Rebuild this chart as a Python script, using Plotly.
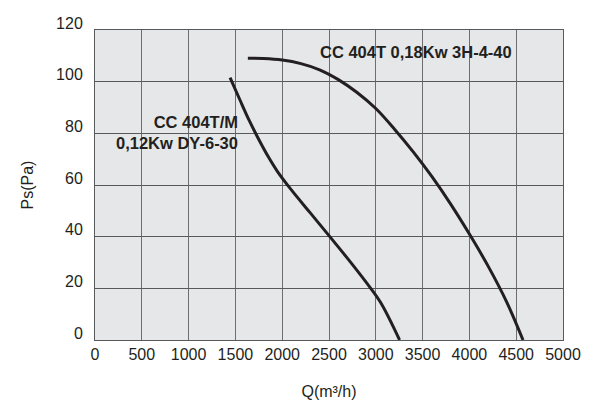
import plotly.graph_objects as go

# Fan curves
q_404tm = [1443, 1550, 1650, 1750, 1850, 1950, 2100, 2300, 2500, 2700, 2900, 3050, 3254]
ps_404tm = [101.6, 92.8, 84.8, 77.6, 71.0, 65.2, 58.0, 49.2, 40.4, 31.5, 22.2, 14.6, 0]

q_404t = [1633, 1800, 2000, 2200, 2400, 2600, 2800, 3000, 3200, 3400, 3600, 3800, 4000, 4200, 4400, 4573]
ps_404t = [109.1, 109.0, 108.4, 107.0, 104.6, 100.8, 95.8, 89.6, 81.6, 72.8, 63.2, 52.6, 41.0, 28.6, 14.6, 0]

x_ticks = [0, 500, 1000, 1500, 2000, 2500, 3000, 3500, 4000, 4500, 5000]
y_ticks = [0, 20, 40, 60, 80, 100, 120]

label_404t = "CC 404T 0,18Kw 3H-4-40"
label_404tm = "CC 404T/M<br>0,12Kw DY-6-30"

INK = "#231f20"
FONT = "Liberation Sans, Arial, sans-serif"

fig = go.Figure()
for q, ps in [(q_404tm, ps_404tm), (q_404t, ps_404t)]:
    fig.add_trace(go.Scatter(
        x=q, y=ps, mode="lines",
        line=dict(color=INK, width=3, shape="spline", smoothing=1.0),
        showlegend=False, hoverinfo="skip",
    ))

fig.add_annotation(x=2380, y=111.4, xref="x", yref="y", text=f"<b>{label_404t}</b>",
                   showarrow=False, xanchor="left", yanchor="middle",
                   font=dict(family=FONT, size=16.5, color=INK))
fig.add_annotation(x=1551, y=80.3, xref="x", yref="y", text=f"<b>{label_404tm}</b>",
                   showarrow=False, xanchor="right", yanchor="middle", align="right",
                   font=dict(family=FONT, size=16.5, color=INK))

fig.update_layout(
    width=608, height=400,
    margin=dict(l=95, r=45, t=30, b=60),
    paper_bgcolor="white",
    plot_bgcolor="#e6e7e8",
    font=dict(family=FONT, size=16, color=INK),
)
fig.update_xaxes(
    range=[0, 5000], tickvals=x_ticks, ticktext=[str(v) for v in x_ticks],
    showgrid=True, gridcolor="#6d6e71", gridwidth=1,
    showline=True, linecolor="#58595b", linewidth=1, mirror=True,
    zeroline=False, ticks="", automargin=False,
    tickfont=dict(size=16, color=INK),
    title=dict(text="Q(m³/h)", font=dict(size=16, color=INK), standoff=27),
)
fig.update_yaxes(
    range=[0, 120], tickvals=y_ticks, ticktext=[str(v) for v in y_ticks],
    showgrid=True, gridcolor="#58595b", gridwidth=1,
    showline=True, linecolor="#58595b", linewidth=1, mirror=True,
    zeroline=False, ticks="", automargin=False,
    tickfont=dict(size=16, color=INK),
    ticklabelshift=-7, ticklabelstandoff=8,
    title=dict(text="Ps(Pa)", font=dict(size=16, color=INK), standoff=18),
)

fig.write_html("out.html")
